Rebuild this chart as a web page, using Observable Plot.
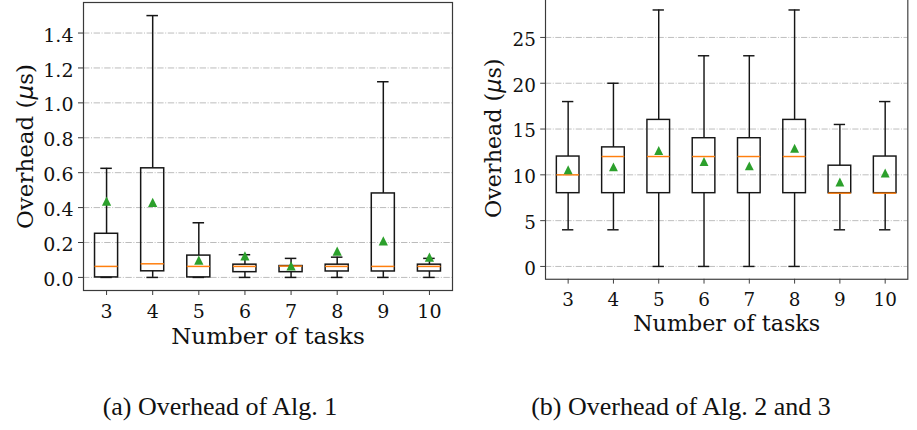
<!DOCTYPE html>
<html>
<head>
<meta charset="utf-8">
<script src="https://cdn.jsdelivr.net/npm/d3@7"></script>
<script src="https://cdn.jsdelivr.net/npm/@observablehq/plot@0.6"></script>
<style>
  html, body { margin: 0; padding: 0; background: #fff; width: 917px; height: 430px; overflow: hidden; }
  #figure { position: relative; width: 917px; height: 430px; overflow: hidden; }
  .panel { position: absolute; }
  .caption {
    position: absolute; top: 392px; width: 440px; text-align: center;
    font-family: "Liberation Serif", serif; font-size: 26px; color: #111; white-space: nowrap;
  }
</style>
</head>
<body>
<div id="figure">
  <div id="panelA" class="panel" style="left:0px; top:-8px;"></div>
  <div id="panelB" class="panel" style="left:460px; top:-13px;"></div>
  <div class="caption" style="left:0px;">(a) Overhead of Alg. 1</div>
  <div class="caption" style="left:461px;">(b) Overhead of Alg. 2 and 3</div>
</div>
<script>
// Number of tasks on the x axis
const tasks = [3, 4, 5, 6, 7, 8, 9, 10];

// Alg. 1 overhead (μs): whisker ends, quartiles, median and mean per task count
const alg1Low    = [0, 0, 0, 0, 0, 0, 0, 0];
const alg1Q1     = [0, 0.035, 0, 0.03, 0.03, 0.034, 0.034, 0.034];
const alg1Median = [0.063, 0.078, 0.063, 0.063, 0.065, 0.063, 0.063, 0.063];
const alg1Q3     = [0.25, 0.625, 0.125, 0.073, 0.065, 0.073, 0.481, 0.073];
const alg1High   = [0.625, 1.5, 0.313, 0.13, 0.109, 0.116, 1.121, 0.109];
const alg1Mean   = [0.437, 0.43, 0.099, 0.123, 0.066, 0.151, 0.209, 0.116];
const alg1Ticks  = [0, 0.2, 0.4, 0.6, 0.8, 1.0, 1.2, 1.4];

// Alg. 2 and 3 overhead (μs)
const alg23Low    = [4, 4, 0, 0, 0, 0, 4, 4];
const alg23Q1     = [8, 8, 8, 8, 8, 8, 8, 8];
const alg23Median = [10, 12, 12, 12, 12, 12, 8, 8];
const alg23Q3     = [12, 13, 16, 14, 14, 16, 11, 12];
const alg23High   = [18, 20, 28, 23, 23, 28, 15.5, 18];
const alg23Mean   = [10.56, 10.87, 12.66, 11.45, 10.98, 12.9, 9.22, 10.2];
const alg23Ticks  = [0, 5, 10, 15, 20, 25];

// Upward triangle as wide as it is tall, centred on its bounding box
const triangleUp = {
  draw(context, size) {
    const r = Math.sqrt(size / Math.PI);
    context.moveTo(0, -r);
    context.lineTo(r, r);
    context.lineTo(-r, r);
    context.closePath();
  }
};

function boxPanel(cfg) {
  const rows = tasks.map((task, i) => ({
    task,
    low: cfg.low[i], q1: cfg.q1[i], median: cfg.median[i],
    q3: cfg.q3[i], high: cfg.high[i], mean: cfg.mean[i]
  }));
  const half = 0.25;   // half box width, in task units
  const cap = 0.125;   // half cap width
  const ink = "#161616";
  const lw = 1.5;
  const labelSize = 23;

  const svg = Plot.plot({
    width: cfg.width,
    height: cfg.height,
    marginLeft: cfg.marginLeft,
    marginRight: cfg.marginRight,
    marginTop: cfg.marginTop,
    marginBottom: cfg.marginBottom,
    style: { fontFamily: "DejaVu Serif", fontSize: "19px", color: "#111", background: "transparent", overflow: "visible" },
    x: { domain: [2.5, 10.5] },
    y: { domain: cfg.yDomain },
    marks: [
      // dash-dot horizontal grid
      Plot.ruleY(cfg.ticks, { stroke: "#bcbcbc", strokeWidth: 1, strokeDasharray: "6.4,1.6,1,1.6" }),
      // whiskers
      Plot.ruleX(rows, { x: "task", y1: "low", y2: "q1", stroke: ink, strokeWidth: lw }),
      Plot.ruleX(rows, { x: "task", y1: "q3", y2: "high", stroke: ink, strokeWidth: lw }),
      // caps
      Plot.ruleY(rows, { y: "low", x1: d => d.task - cap, x2: d => d.task + cap, stroke: ink, strokeWidth: lw }),
      Plot.ruleY(rows, { y: "high", x1: d => d.task - cap, x2: d => d.task + cap, stroke: ink, strokeWidth: lw }),
      // boxes
      Plot.rect(rows, { x1: d => d.task - half, x2: d => d.task + half, y1: "q1", y2: "q3", fill: "none", stroke: ink, strokeWidth: lw }),
      // medians
      Plot.ruleY(rows, { y: "median", x1: d => d.task - half, x2: d => d.task + half, stroke: "#ff7f0e", strokeWidth: 1.5 }),
      // means
      Plot.dot(rows, { x: "task", y: "mean", symbol: triangleUp, r: 4.6, fill: "#2ca02c", stroke: "none" }),
      // frame
      Plot.frame({ stroke: "#3a3a3a", strokeWidth: 1.2 }),
      // axes
      Plot.axisX({ ticks: tasks, tickFormat: d => `${d}`, tickSize: 5, tickPadding: 9, label: null, stroke: "#3a3a3a" }),
      Plot.axisY({ ticks: cfg.ticks, tickSize: 5, fill: "none", label: null, stroke: "#3a3a3a" }),
      Plot.axisY({ ticks: cfg.ticks, tickFormat: cfg.tickFormat, tickSize: 0, tickPadding: 10, dy: 2.5, label: null }),
      // axis titles
      Plot.text(["Number of tasks"], { text: d => d, frameAnchor: "bottom", textAnchor: "middle", lineAnchor: "middle", dy: cfg.xLabelBaseline - 0.32 * labelSize, fontSize: labelSize, fill: "#111" }),
      Plot.text(["Overhead (μs)"], { text: d => d, frameAnchor: "left", textAnchor: "middle", rotate: -90, lineAnchor: "middle", dx: cfg.yLabelDx, fontSize: labelSize, fill: "#111" })
    ]
  });

  // set the μ in italics
  svg.querySelectorAll("text").forEach(t => {
    const s = t.textContent;
    if (s.includes("μ")) {
      const [before, after] = s.split("μ");
      t.textContent = "";
      t.appendChild(document.createTextNode(before));
      const mu = document.createElementNS("http://www.w3.org/2000/svg", "tspan");
      mu.setAttribute("font-style", "italic");
      mu.setAttribute("font-family", "DejaVu Sans");
      mu.textContent = "μ";
      t.appendChild(mu);
      t.appendChild(document.createTextNode(after));
    }
  });
  return svg;
}

document.getElementById("panelA").appendChild(boxPanel({
  low: alg1Low, q1: alg1Q1, median: alg1Median, q3: alg1Q3, high: alg1High, mean: alg1Mean,
  ticks: alg1Ticks, tickFormat: d3.format(".1f"), yDomain: [-0.075, 1.575],
  width: 460, height: 358, marginLeft: 83, marginRight: 8, marginTop: 10, marginBottom: 60,
  xLabelBaseline: 53.3, yLabelDx: -58.3
}));

document.getElementById("panelB").appendChild(boxPanel({
  low: alg23Low, q1: alg23Q1, median: alg23Median, q3: alg23Q3, high: alg23High, mean: alg23Mean,
  ticks: alg23Ticks, tickFormat: d3.format("d"), yDomain: [-1.4, 29.4],
  width: 473, height: 362, marginLeft: 88, marginRight: 10, marginTop: 10, marginBottom: 60,
  xLabelBaseline: 53.3, yLabelDx: -53.3
}));
</script>
</body>
</html>
